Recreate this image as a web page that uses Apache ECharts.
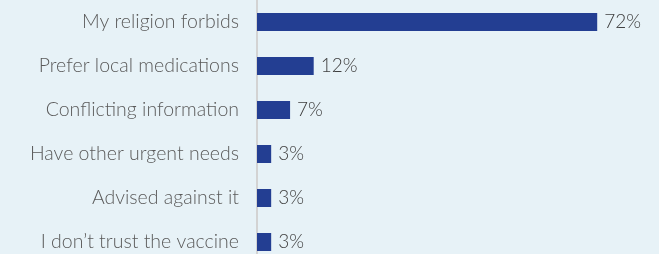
<!DOCTYPE html>
<html>
<head>
<meta charset="utf-8">
<script src="https://cdn.jsdelivr.net/npm/echarts@6/dist/echarts.min.js"></script>
<style>
  html, body { margin: 0; padding: 0; background: #e7f2f7; }
  #chart { width: 659px; height: 254px; }
</style>
</head>
<body>
<div id="chart"></div>
<script>
// reasons, top to bottom
var categories = [
  "My religion forbids",
  "Prefer local medications",
  "Conflicting information",
  "Have other urgent needs",
  "Advised against it",
  "I don\u2019t trust the vaccine"
];
var values = [72, 12, 7, 3, 3, 3];

var chart = echarts.init(document.getElementById("chart"));

chart.setOption({
  backgroundColor: "#e7f2f7",
  animation: false,
  grid: {
    left: 257,
    top: 0,
    width: 378,
    height: 264, // last row is cut off in the original
    outerBoundsMode: "none"
  },
  xAxis: {
    type: "value",
    min: 0,
    max: 80,
    show: false
  },
  yAxis: {
    type: "category",
    inverse: true,
    data: categories,
    axisTick: { show: false },
    axisLine: {
      show: true,
      lineStyle: { color: "#d3d3d3", width: 2 }
    },
    axisLabel: {
      margin: 18,
      color: "#5a5a5a",
      fontFamily: "Lato",
      fontWeight: 300,
      fontSize: 19.5
    }
  },
  series: [
    {
      type: "bar",
      data: values,
      barWidth: 18,
      itemStyle: { color: "#233e92" },
      label: {
        show: true,
        position: "right",
        distance: 7,
        formatter: "{c}%",
        color: "#404040",
        fontFamily: "Lato",
        fontWeight: 300,
        fontSize: 19
      }
    }
  ]
});
</script>
</body>
</html>
